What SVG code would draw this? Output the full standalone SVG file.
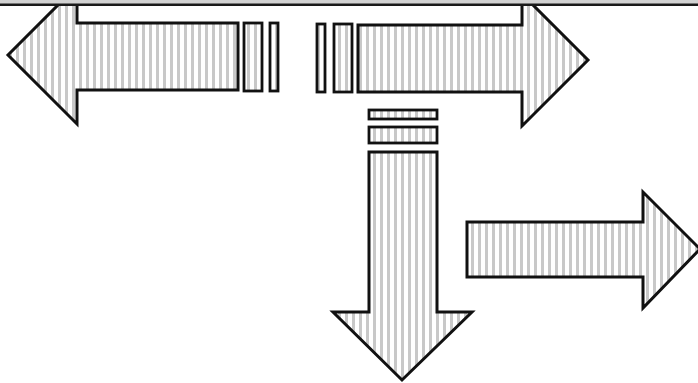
<svg xmlns="http://www.w3.org/2000/svg" width="698" height="383" viewBox="0 0 698 383">
<defs>
<pattern id="stripes" patternUnits="userSpaceOnUse" width="7" height="10">
<rect x="2" y="0" width="3" height="10" fill="#c8c8c8"/>
</pattern>
<style>
.ar{fill:url(#stripes);stroke:#111;stroke-width:3;stroke-linejoin:miter}
.bar{fill:url(#stripes);stroke:#111;stroke-width:2.8}
</style>
</defs>
<rect width="698" height="383" fill="#ffffff"/>
<g id="left-arrow">
<polygon class="ar" points="238,23 77,23 77,-14 8,55 77,124 77,90 238,90"/>
<rect class="bar" x="244" y="23" width="18" height="68"/>
<rect class="bar" x="270" y="23" width="8" height="68"/>
</g>
<g id="right-arrow">
<polygon class="ar" points="358,25 522,25 522,-6 588,60 522,126 522,92 358,92"/>
<rect class="bar" x="317" y="24" width="8" height="68"/>
<rect class="bar" x="334" y="24" width="18" height="68"/>
</g>
<g id="down-arrow">
<rect class="bar" x="369" y="110" width="68" height="9"/>
<rect class="bar" x="369" y="127" width="68" height="16"/>
<polygon class="ar" points="369,152 437,152 437,312 472,312 402,380 333,312 369,312"/>
</g>
<g id="small-right-arrow">
<polygon class="ar" points="467,222 643,222 643,192 700,249 643,308 643,277 467,277"/>
</g>
<g id="top-border">
<rect x="0" y="0" width="698" height="4" fill="#d2d2d2"/>
<rect x="0" y="3.5" width="698" height="2.5" fill="#1a1a1a"/>
</g>
<g id="connectors"/>
</svg>
